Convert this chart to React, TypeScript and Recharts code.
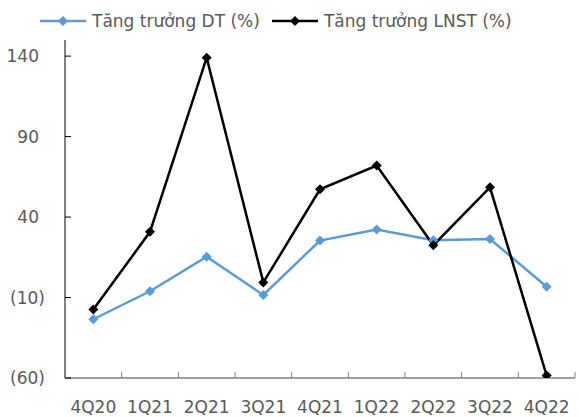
import { LineChart, Line, XAxis, YAxis } from "recharts";

const quarters = ["4Q20", "1Q21", "2Q21", "3Q21", "4Q21", "1Q22", "2Q22", "3Q22", "4Q22"];
const revenueGrowth = [-23.5, -6.1, 15.3, -8.4, 25.4, 32.3, 25.6, 26.4, -3.3];
const profitGrowth = [-17.5, 30.8, 139, -0.6, 57.2, 72, 22.5, 58.5, -58.5];
const yTicks = [-60, -10, 40, 90, 140];

const FONT = "'DejaVu Sans', Verdana, sans-serif";
const LABEL = "#595959";
const BLUE = "#5B9BD5";
const BAND = 510 / quarters.length;

const data = quarters.map((q, i) => ({ q, dt: revenueGrowth[i], lnst: profitGrowth[i] }));

const fmt = (v: number) => (v < 0 ? `(${Math.abs(v)})` : `${v}`);

function Diamond({ cx, cy, fill }: { cx?: number; cy?: number; fill: string }) {
  if (cx == null || cy == null) return null;
  const r = 5;
  return <path d={`M${cx},${cy - r}L${cx + r},${cy}L${cx},${cy + r}L${cx - r},${cy}Z`} fill={fill} />;
}

function YTick({ x, y, payload }: any) {
  const v = payload.value as number;
  return (
    <g>
      <line x1={x} x2={x + 6} y1={y} y2={y} stroke="#000" strokeWidth={1} />
      <text x={v < 0 ? x - 20 : x - 26} y={y} dy={6} textAnchor="end" fill={LABEL} fontSize={17} fontFamily={FONT}>
        {fmt(v)}
      </text>
    </g>
  );
}

function XTick({ x, y, payload, index }: any) {
  const left = x - BAND / 2;
  const last = index === quarters.length - 1;
  return (
    <g>
      <line x1={left} x2={left} y1={y - 6} y2={y} stroke="#7f7f7f" />
      {last && <line x1={x + BAND / 2} x2={x + BAND / 2} y1={y - 6} y2={y} stroke="#7f7f7f" />}
      <text x={x} y={y + 35} textAnchor="middle" fill={LABEL} fontSize={17} fontFamily={FONT}>
        {payload.value}
      </text>
    </g>
  );
}

function LegendItem({ color, label }: { color: string; label: string }) {
  return (
    <span style={{ display: "inline-flex", alignItems: "center", marginRight: 12 }}>
      <svg width={46} height={12} style={{ marginRight: 6 }}>
        <line x1={0} x2={46} y1={6} y2={6} stroke={color} strokeWidth={2.5} />
        <path d="M23,1L28,6L23,11L18,6Z" fill={color} />
      </svg>
      <span>{label}</span>
    </span>
  );
}

export default function App() {
  return (
    <div style={{ position: "absolute", left: 0, top: 0, width: 579, height: 417, background: "#fff" }}>
      <div
        style={{
          position: "absolute",
          left: 40,
          top: 11,
          display: "flex",
          fontFamily: FONT,
          fontSize: 17,
          color: LABEL,
          whiteSpace: "nowrap",
        }}
      >
        <LegendItem color={BLUE} label="Tăng trưởng DT (%)" />
        <LegendItem color="#000" label="Tăng trưởng LNST (%)" />
      </div>
      <LineChart width={579} height={417} data={data} margin={{ top: 40, right: 4, bottom: 0, left: 0 }}>
        <XAxis
          dataKey="q"
          height={39}
          padding={{ left: BAND / 2, right: BAND / 2 }}
          axisLine={{ stroke: "#7f7f7f", strokeWidth: 1.5 }}
          tickLine={false}
          tickSize={0}
          tickMargin={0}
          tick={<XTick />}
          interval={0}
        />
        <YAxis
          width={65}
          domain={[-60, 150]}
          ticks={yTicks}
          allowDataOverflow
          axisLine={{ stroke: "#000" }}
          tickLine={false}
          tickSize={0}
          tickMargin={0}
          tick={<YTick />}
          interval={0}
        />
        <Line
          dataKey="dt"
          stroke={BLUE}
          strokeWidth={2.5}
          dot={(p: any) => <Diamond key={`dt${p.index}`} cx={p.cx} cy={p.cy} fill={BLUE} />}
          isAnimationActive={false}
        />
        <Line
          dataKey="lnst"
          stroke="#000"
          strokeWidth={2.5}
          dot={(p: any) => <Diamond key={`ln${p.index}`} cx={p.cx} cy={p.cy} fill="#000" />}
          isAnimationActive={false}
        />
      </LineChart>
    </div>
  );
}
